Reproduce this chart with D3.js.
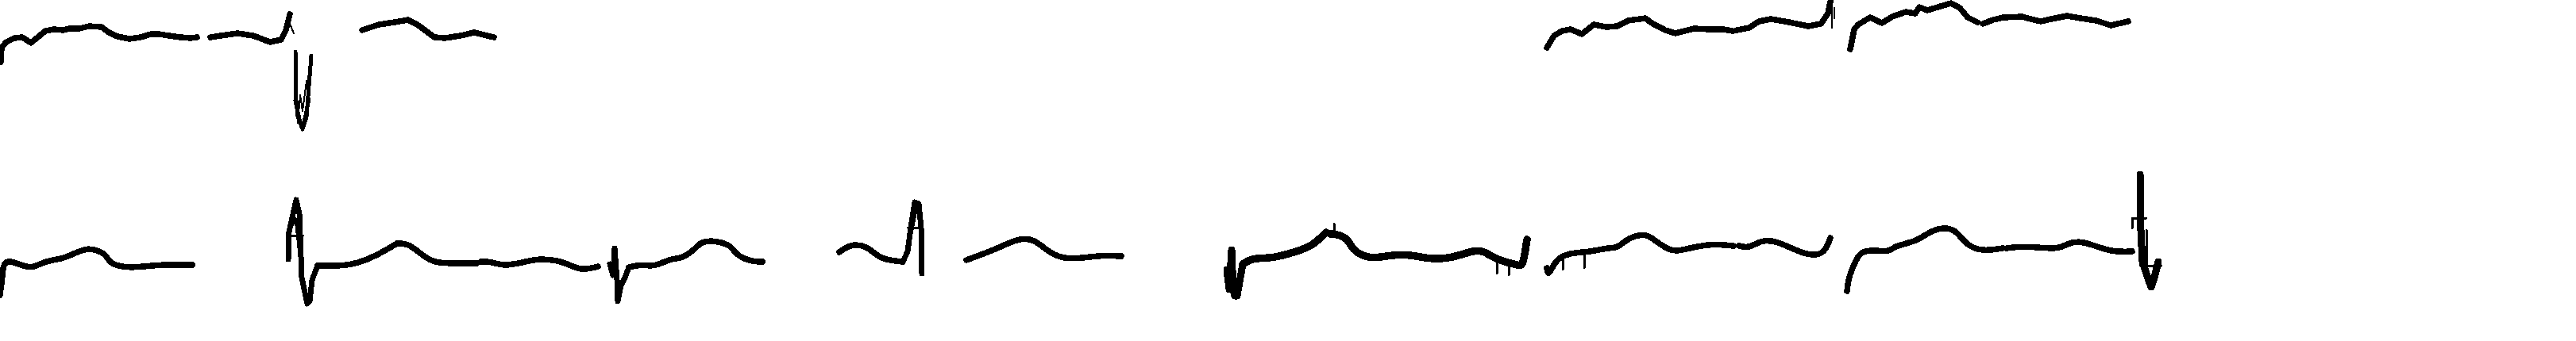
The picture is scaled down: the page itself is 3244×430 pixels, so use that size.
<!DOCTYPE html>
<html><head><meta charset="utf-8"><script src="https://cdn.jsdelivr.net/npm/d3@7"></script>
<style>html,body{margin:0;background:#fff;overflow:hidden}</style></head><body><div id="c"></div>
<script>
// Each trace: [sample, amplitude]
const topA=[[1,-28],[2,-10],[8,-3],[18,2],[28,3],[39,-4],[50,5],[57,11],[68,13],[80,12],[87,14],[100,14],[112,17],[128,16],[137,9],[148,4],[163,1],[177,3],[190,7],[200,7],[213,5],[227,3],[240,2],[248,3]];
const topB=[[265,3],[278,5],[299,8],[319,5],[340,-3],[354,0],[360,12],[365,32]];
const topC=[[372,-15],[373,-77],[375,-97],[381,-113],[386,-97],[392,-20]];
const topD=[[456,12],[477,19],[497,22],[514,25],[527,18],[547,3],[560,2],[580,5],[597,9],[622,3]];
const topE=[[1948,-10],[1957,5],[1967,11],[1978,13],[1992,7],[2007,19],[2023,16],[2037,17],[2050,24],[2072,27],[2080,21],[2097,12],[2110,8],[2133,14],[2153,13],[2170,13],[2182,11]];
const topF=[[2187,12],[2203,15],[2215,23],[2230,26],[2253,22],[2277,17],[2293,20],[2302,33],[2305,48]];
const topG=[[2330,-12],[2335,13],[2340,19],[2355,28],[2370,21],[2383,29],[2400,35],[2412,33],[2417,41],[2427,37],[2457,46],[2468,40],[2478,28],[2490,22]];
const topH=[[2497,20],[2510,25],[2523,28],[2547,29],[2553,27],[2570,23],[2583,26],[2603,30],[2620,27],[2640,24],[2658,18],[2680,23]];
const topThin=[[[375,-105],[378,-70],[381,-90],[386,-52],[388,-92]],[[2307,15],[2307,45]],[[2310,40],[2310,27]],[[365,20],[370,8]]];
const topMass=[[372,-77],[377,-100],[381,-113],[385,-95],[389,-75]];
const lowI=[[0,-52],[3,-30],[4,-12],[12,-8],[33,-17],[43,-17],[58,-9],[80,-6],[92,0],[110,7],[120,5],[133,0],[138,-12],[155,-17],[173,-17],[200,-14],[217,-14],[242,-14]];
const lowJspike=[[363,-7],[363,23],[369,50],[373,68],[377,50],[378,23],[380,-30],[387,-63],[390,-60],[393,-33],[400,-15]];
const lowJ=[[400,-15],[413,-15],[433,-15],[450,-12],[473,-3],[500,13]];
const lowK=[[500,13],[515,13],[533,-3],[548,-12],[577,-12],[600,-12]];
const lowL=[[606,-10],[620,-10],[633,-16],[663,-10],[677,-6],[710,-9],[730,-22],[753,-16]];
const lowMspike=[[768,-13],[772,-27],[774,7],[777,-33],[778,-60],[782,-40],[787,-30],[792,-17]];
const lowM=[[792,-17],[810,-13],[823,-17],[847,-5],[857,-7],[877,7],[882,15],[900,17],[922,10],[925,0],[945,-10],[960,-10]];
const lowN=[[1057,2],[1072,13],[1093,9],[1103,-2],[1117,-8],[1137,-10]];
const lowNspike=[[1137,-10],[1143,3],[1147,33],[1152,65],[1157,63],[1160,33],[1161,-25]];
const lowO=[[1217,-8],[1233,-2],[1257,7],[1283,20],[1303,18],[1317,5],[1337,-7],[1367,-5],[1387,-2],[1412,-3]];
const lowPspike=[[1545,-20],[1548,-45],[1551,5],[1553,-45],[1555,-53],[1558,-53],[1562,-30],[1565,-13]];
const lowP=[[1565,-13],[1577,-5],[1603,-6],[1633,3],[1653,10],[1670,27]];
const lowQ=[[1675,25],[1682,25],[1697,20],[1703,5],[1720,-5],[1737,-5],[1767,1],[1800,-7],[1827,-6],[1857,5],[1870,3],[1883,-7],[1913,-15],[1918,-15],[1923,18]];
const lowR=[[1948,-18],[1950,-30],[1960,-3],[1987,2],[2000,2],[2027,8],[2037,7],[2050,20],[2070,25],[2078,22],[2103,2],[2120,5],[2153,13],[2183,10]];
const lowS=[[2190,10],[2203,7],[2217,17],[2237,17],[2273,-2],[2297,-2],[2305,20]];
const lowT=[[2326,-47],[2328,-30],[2335,-13],[2342,2],[2357,5],[2380,2],[2385,10],[2413,15],[2433,30],[2450,33],[2463,30],[2477,10],[2497,3],[2522,7]];
const lowU=[[2527,7],[2550,10],[2593,5],[2603,13],[2618,16],[2633,12],[2660,2],[2685,3]];
const lowV=[[2695,100],[2695,50],[2698,-10],[2707,-37],[2709,-42],[2713,-30],[2718,-10]];
const lowThin=[[[2685,32],[2685,45],[2703,45]],[[2695,-15],[2722,-15]],[[2703,-20],[2703,30]],[[1680,25],[1680,38]],[[366,30],[372,45],[380,-30]],[[1147,20],[1155,60],[1161,10]],[[362,23],[382,23]],[[1143,33],[1161,33]],[[1968,-20],[1968,0]],[[1995,-18],[1995,0]],[[1885,-25],[1885,-10]],[[1900,-27],[1900,-12]]];

const x=d3.scaleLinear().domain([0,3244]).range([0,3244]);
const yTop=d3.scaleLinear().domain([50,-380]).range([0,430]);
const yLow=d3.scaleLinear().domain([320,-110]).range([0,430]);
const svg=d3.select("#c").append("svg").attr("width",3244).attr("height",430).style("display","block");
function draw(list,y,w,curve){
  const line=d3.line().x(d=>x(d[0])).y(d=>y(d[1])).curve(curve||d3.curveLinear);
  svg.append("g").selectAll("path").data(list).join("path").attr("d",line)
    .attr("fill","none").attr("stroke","#000").attr("stroke-width",w)
    .attr("stroke-linejoin","round").attr("stroke-linecap","round").attr("shape-rendering","crispEdges");
}
const smooth=d3.curveLinear, soft=d3.curveBasis;
draw([topA,topB,topD,topE,topF,topG,topH],yTop,7.5,smooth);
draw([topC,topMass],yTop,5);
draw(topThin,yTop,2);
draw([lowI,lowJ,lowK,lowL,lowM,lowN,lowO,lowR,lowS,lowT,lowU],yLow,7.5,soft);
draw([lowJspike,lowMspike,lowNspike],yLow,7);
draw([lowP,lowQ],yLow,9.5,soft);
draw([lowPspike,lowV],yLow,9);
draw(lowThin,yLow,3);
</script></body></html>
